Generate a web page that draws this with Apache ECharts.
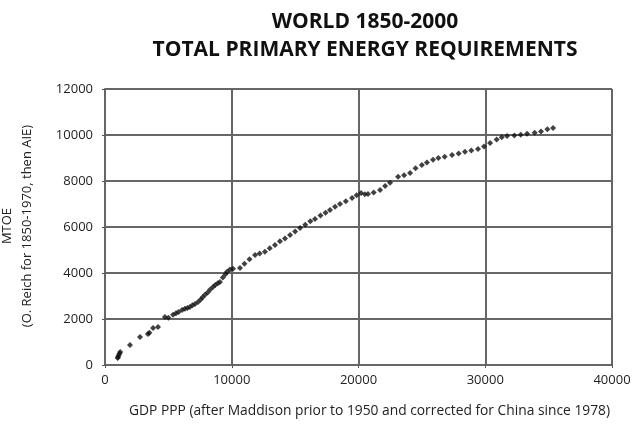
<!DOCTYPE html>
<html><head><meta charset="utf-8">
<script src="https://cdn.jsdelivr.net/npm/echarts@6/dist/echarts.min.js"></script>
<style>html,body{margin:0;padding:0;background:#fff}#c{width:634px;height:425px}</style>
</head><body><div id="c"></div>
<script>
const gdp = [1000,1030,1080,1150,1200,1970,2760,3390,3500,3790,4180,4730,5000,5370,5600,5800,6080,6300,6500,6700,6900,7100,7340,7550,7700,7890,8100,8300,8520,8700,8900,9070,9300,9500,9630,9850,10100,10650,11000,11400,11840,12200,12620,13000,13410,13800,14200,14600,15000,15390,15800,16200,16570,17000,17400,17750,18150,18540,19000,19490,19850,20200,20500,20750,21200,21700,22100,22490,23120,23600,24070,24500,25000,25400,25880,26300,26800,27380,27900,28400,28900,29430,29900,30380,30900,31300,31720,32300,32800,33300,33900,34400,34900,35350];
const energy = [300,350,420,500,560,870,1220,1350,1400,1610,1650,2090,2050,2180,2250,2300,2390,2450,2480,2520,2600,2650,2740,2850,2950,3050,3150,3280,3390,3480,3550,3610,3800,3950,4050,4150,4180,4220,4400,4600,4780,4850,4920,5080,5220,5380,5500,5650,5800,5960,6100,6250,6350,6500,6620,6740,6880,7000,7120,7260,7380,7480,7420,7440,7500,7610,7780,7920,8180,8250,8350,8550,8700,8800,8920,9000,9050,9130,9200,9270,9330,9390,9500,9650,9800,9900,9960,9980,10010,10050,10100,10150,10250,10300];
const titleLines = ['WORLD 1850-2000','TOTAL PRIMARY ENERGY REQUIREMENTS'];
const yNameLines = ['MTOE','(O. Reich for 1850-1970, then AIE)'];
const xName = 'GDP PPP (after Maddison prior to 1950 and corrected for China since 1978)';

const font = '"Open Sans", "Noto Sans", sans-serif';
const chart = echarts.init(document.getElementById('c'), null, {renderer:'canvas'});
chart.setOption({
  animation:false,
  backgroundColor:'#fff',
  title:{text:titleLines.join('\n'), left:360, top:3, textAlign:'center',
    textStyle:{fontFamily:font, fontWeight:'bold', fontSize:21, color:'#111', lineHeight:28}},
  grid:{left:105, right:22, top:89, bottom:60},
  xAxis:{type:'value', min:0, max:40000, interval:10000,
    axisLine:{show:true, lineStyle:{color:'#666', width:2}},
    axisTick:{show:true, length:3, lineStyle:{color:'#555'}},
    splitLine:{show:true, lineStyle:{color:'#666', width:2}},
    axisLabel:{fontFamily:font, fontSize:13, color:'#222', margin:9, formatter:v=>String(v)},
    name:xName, nameLocation:'middle', nameGap:39,
    nameTextStyle:{fontFamily:font, fontSize:13.8, color:'#222', padding:[0,0,0,22]}},
  yAxis:{type:'value', min:0, max:12000, interval:2000,
    axisLine:{show:true, lineStyle:{color:'#666', width:2}},
    axisTick:{show:true, length:3, lineStyle:{color:'#555'}},
    splitLine:{show:true, lineStyle:{color:'#666', width:2}},
    axisLabel:{fontFamily:font, fontSize:13, color:'#222', margin:12, formatter:v=>String(v)}},
  graphic:[
    {type:'text', x:17, y:226, rotation:Math.PI/2,
      style:{text:yNameLines.join('\n'), fontFamily:font, fontSize:13, fill:'#222',
        textAlign:'center', textVerticalAlign:'middle', lineHeight:20}}
  ],
  series:[{type:'scatter', symbol:'diamond', symbolSize:6,
    itemStyle:{color:'#111'},
    data:gdp.map((g,i)=>[g, energy[i]])}]
});
</script></body></html>
